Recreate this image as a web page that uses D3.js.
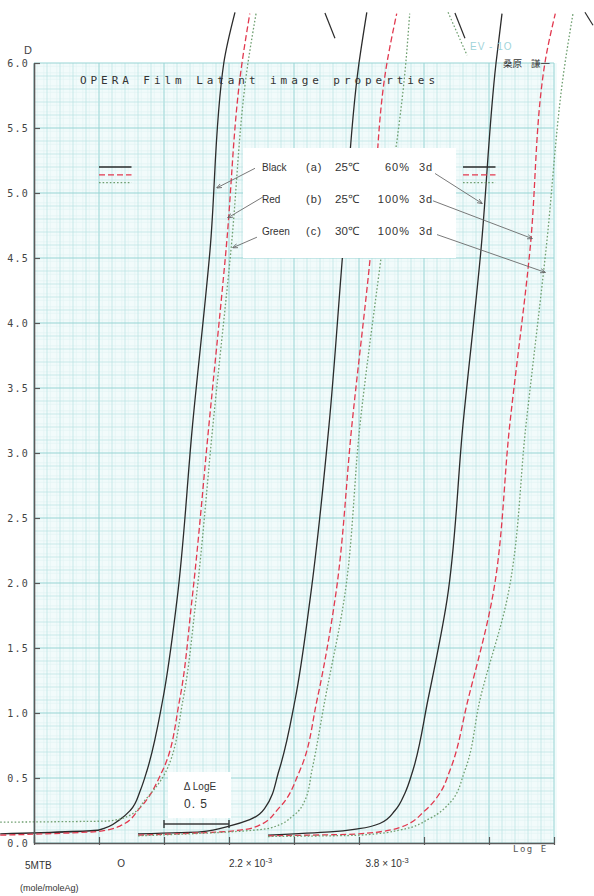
<!DOCTYPE html>
<html>
<head>
<meta charset="utf-8">
<script src="https://cdn.jsdelivr.net/npm/d3@7"></script>
<style>
  html, body { margin: 0; padding: 0; background: #fff; }
  svg { display: block; }
</style>
</head>
<body>
<svg id="chart" width="594" height="896"></svg>
<script>
// [log E, D] pairs, one array per curve
const black0 = [[-0.26,0.07],[0.5,0.10],[0.66,0.18],[0.74,0.25],[0.82,0.41],[0.87,0.56],[0.99,1.10],[1.10,1.87],[1.22,3.22],[1.354,4.56],[1.46,6.0],[1.546,6.39]];
const red0 = [[-0.26,0.06],[0.5,0.09],[0.66,0.13],[0.815,0.27],[0.99,0.56],[1.12,1.10],[1.215,1.87],[1.346,3.22],[1.477,4.56],[1.6,6.0],[1.66,6.38]];
const green0 = [[-0.26,0.16],[0.585,0.17],[0.74,0.215],[0.854,0.33],[1.02,0.56],[1.146,1.10],[1.246,1.87],[1.377,3.22],[1.515,4.56],[1.646,6.0],[1.708,6.38]];

const black1 = [[0.8,0.07],[1.277,0.085],[1.5,0.13],[1.66,0.18],[1.777,0.27],[1.885,0.56],[2.008,1.10],[2.123,1.87],[2.27,3.22],[2.377,4.56],[2.5,6.0],[2.56,6.39]];
const red1 = [[0.8,0.06],[1.5,0.09],[1.72,0.13],[1.885,0.27],[2.046,0.56],[2.177,1.10],[2.315,1.87],[2.446,3.22],[2.592,4.56],[2.715,6.0],[2.79,6.38]];
const green1 = [[0.8,0.055],[1.5,0.085],[1.815,0.115],[2.0,0.215],[2.085,0.33],[2.138,0.56],[2.238,1.10],[2.385,1.87],[2.508,3.22],[2.677,4.56],[2.86,6.0],[2.89,6.38]];

const black2 = [[1.8,0.06],[2.277,0.085],[2.5,0.11],[2.66,0.15],[2.777,0.25],[2.854,0.385],[2.915,0.56],[3.03,1.10],[3.177,1.87],[3.3,3.22],[3.438,4.56],[3.554,6.0],[3.6,6.38]];
const red2 = [[1.8,0.055],[2.5,0.07],[2.815,0.12],[3.008,0.25],[3.123,0.385],[3.2,0.56],[3.338,1.10],[3.523,1.87],[3.66,3.22],[3.815,4.56],[3.93,6.0],[4.01,6.38]];
const green2 = [[1.8,0.05],[2.5,0.06],[2.815,0.10],[3.046,0.19],[3.2,0.31],[3.315,0.56],[3.43,1.10],[3.638,1.87],[3.785,3.22],[3.938,4.56],[4.085,6.0],[4.146,6.38]];

// stray pencil strokes above the sheet
const strayBlack = [[[2.238,6.385],[2.315,6.19]],[[3.238,6.385],[3.315,6.19]],[[4.238,6.39],[4.3,6.29]]];
const strayGreen = [[[3.185,6.39],[3.331,6.06]]];

const yTicks = [0,0.5,1,1.5,2,2.5,3,3.5,4,4.5,5,5.5,6];
const xTicks = [0,0.5,1,1.5,2,2.5,3,3.5,4];

const legendNames = ['Black','Red','Green'];
const legendCond = ['(a)','(b)','(c)'];
const legendTemp = ['25℃','25℃','30℃'];
const legendHum = ['60%','100%','100%'];
const legendDays = ['3d','3d','3d'];

// arrow [from, to] in log E / D
const arrowsLeft = [[[1.70,5.19],[1.408,5.04]],[[1.762,4.97],[1.492,4.81]],[[1.715,4.66],[1.531,4.58]]];
const arrowsRight = [[[3.085,5.15],[3.446,4.92]],[[3.069,4.94],[3.831,4.65]],[[3.10,4.68],[3.931,4.39]]];

const conc = ['O','2.2','3.8'];
const concAt = [0.64,1.5,2.55];

const svg = d3.select('#chart');
const x = d3.scaleLinear().domain([0,4]).range([34,554]);
const y = d3.scaleLinear().domain([0,6]).range([843,63]);

const styles = {
  black: { stroke: '#2b2b2b', dash: null, width: 1.3 },
  red: { stroke: '#e2394f', dash: '6,3', width: 1.3 },
  green: { stroke: '#6f9f70', dash: '1.6,2', width: 1.3 },
};

// graph paper
const paper = svg.append('g');
paper.append('rect')
  .attr('x', x(0)).attr('y', y(6))
  .attr('width', x(4) - x(0) + 3).attr('height', y(0) - y(6))
  .attr('fill', '#f2fbfb');

const fine = d3.range(0, 80).map(i => i * 0.05 + 0.025);
const fineY = d3.range(0, 120).map(i => i * 0.05 + 0.025);
paper.selectAll('.fx').data(fine).join('line')
  .attr('x1', d => x(d)).attr('x2', d => x(d))
  .attr('y1', y(0)).attr('y2', y(6))
  .attr('stroke', '#dcf1f1').attr('stroke-width', 0.5);
paper.selectAll('.fy').data(fineY).join('line')
  .attr('y1', d => y(d)).attr('y2', d => y(d))
  .attr('x1', x(0)).attr('x2', x(4))
  .attr('stroke', '#dcf1f1').attr('stroke-width', 0.5);

const gx = d3.range(0, 41).map(i => i / 10);
const gy = d3.range(0, 61).map(i => i / 10);
const isMajor = d => Math.abs(d * 2 - Math.round(d * 2)) < 1e-6;
paper.selectAll('.gx').data(gx).join('line')
  .attr('x1', d => x(d)).attr('x2', d => x(d))
  .attr('y1', y(0)).attr('y2', y(6))
  .attr('stroke', d => isMajor(d) ? '#97d4d4' : '#b8e3e3')
  .attr('stroke-width', d => isMajor(d) ? 1 : 0.7);
paper.selectAll('.gy').data(gy).join('line')
  .attr('y1', d => y(d)).attr('y2', d => y(d))
  .attr('x1', x(0)).attr('x2', x(4))
  .attr('stroke', d => isMajor(d) ? '#97d4d4' : '#b8e3e3')
  .attr('stroke-width', d => isMajor(d) ? 1 : 0.7);

// curves
const line = d3.line()
  .curve(d3.curveMonotoneY)
  .x(d => x(d[0]))
  .y(d => y(d[1]));

const curves = [
  [black0,'black'],[red0,'red'],[green0,'green'],
  [black1,'black'],[red1,'red'],[green1,'green'],
  [black2,'black'],[red2,'red'],[green2,'green'],
];
const cg = svg.append('g');
curves.forEach(([pts, kind]) => {
  const s = styles[kind];
  cg.append('path')
    .datum(pts)
    .attr('fill', 'none')
    .attr('stroke', s.stroke)
    .attr('stroke-width', s.width)
    .attr('stroke-dasharray', s.dash)
    .attr('d', line);
});
const seg = d3.line().x(d => x(d[0])).y(d => y(d[1]));
strayBlack.forEach(s => cg.append('path').datum(s)
  .attr('fill', 'none').attr('stroke', styles.black.stroke).attr('stroke-width', 1.2)
  .attr('d', seg));
strayGreen.forEach(s => cg.append('path').datum(s)
  .attr('fill', 'none').attr('stroke', styles.green.stroke).attr('stroke-width', 1.2)
  .attr('stroke-dasharray', styles.green.dash)
  .attr('d', seg));

// white label patches
svg.append('rect')
  .attr('x', 243).attr('y', 148).attr('width', 213).attr('height', 110)
  .attr('fill', '#fff');
svg.append('rect')
  .attr('x', 168).attr('y', 772).attr('width', 63).attr('height', 46)
  .attr('fill', '#fff');

// axes
const yAxis = svg.append('g')
  .attr('transform', `translate(${x(0)},0)`)
  .call(d3.axisLeft(y).tickValues(yTicks).tickFormat(d3.format('.1f'))
    .tickSizeInner(-6).tickSizeOuter(0).tickPadding(5));
yAxis.select('.domain').attr('stroke', '#5a5a5a').attr('stroke-width', 1.6);
yAxis.selectAll('.tick line').attr('stroke', '#5a5a5a').attr('stroke-width', 1.2);
yAxis.selectAll('.tick text')
  .attr('font-family', 'DejaVu Sans Mono, monospace')
  .attr('font-size', 10).attr('fill', '#444')
  .attr('letter-spacing', 1.2);

const xAxis = svg.append('g')
  .attr('transform', `translate(0,${y(0)})`)
  .call(d3.axisBottom(x).tickValues(xTicks).tickFormat('')
    .tickSizeInner(-6).tickSizeOuter(0));
xAxis.select('.domain').attr('stroke', '#5a5a5a').attr('stroke-width', 1.6);
xAxis.selectAll('.tick line').attr('stroke', '#5a5a5a').attr('stroke-width', 1.2)
  .attr('y2', -6).attr('y1', 2);

svg.append('text')
  .attr('x', 28).attr('y', 54)
  .attr('text-anchor', 'middle')
  .attr('font-family', 'Liberation Sans, Arial, sans-serif')
  .attr('font-size', 11).attr('fill', '#444')
  .text('D');

svg.append('text')
  .attr('x', 513).attr('y', 852)
  .attr('font-family', 'DejaVu Sans Mono, monospace')
  .attr('font-size', 9).attr('fill', '#555')
  .attr('letter-spacing', 1.5)
  .text('Log E');

// title
svg.append('text')
  .attr('x', 80).attr('y', 84)
  .attr('font-family', 'DejaVu Sans Mono, monospace')
  .attr('font-size', 11).attr('fill', '#333')
  .attr('textLength', 355).attr('lengthAdjust', 'spacing')
  .text('OPERA Film  Latant image properties');

// corner marks
svg.append('text')
  .attr('x', 470).attr('y', 50)
  .attr('font-family', 'Liberation Sans, Arial, sans-serif')
  .attr('font-size', 10).attr('fill', '#9fd4da')
  .attr('letter-spacing', 1)
  .text('EV - 1O');
const nm = svg.append('g')
  .attr('font-family', 'Noto Sans CJK JP, sans-serif')
  .attr('font-size', 9.5).attr('fill', '#333');
nm.append('text').attr('x', 503).attr('y', 67).text('桑原');
nm.append('text').attr('x', 531).attr('y', 67).text('謙一');

// legend samples
const sampleRows = [5.2, 5.14, 5.08];
const sampleCols = [[0.5,0.75],[3.3,3.55]];
['black','red','green'].forEach((k, i) => {
  sampleCols.forEach(c => {
    const s = styles[k];
    svg.append('line')
      .attr('x1', x(c[0])).attr('x2', x(c[1]))
      .attr('y1', y(sampleRows[i])).attr('y2', y(sampleRows[i]))
      .attr('stroke', s.stroke).attr('stroke-width', 1.3)
      .attr('stroke-dasharray', s.dash);
  });
});

// legend text
const rowY = [171, 203, 235];
const lg = svg.append('g')
  .attr('font-family', 'Liberation Sans, Arial, sans-serif')
  .attr('fill', '#333');
legendNames.forEach((n, i) => {
  lg.append('text').attr('x', 262).attr('y', rowY[i]).attr('font-size', 10).text(n);
  lg.append('text').attr('x', 306).attr('y', rowY[i]).attr('font-size', 11)
    .attr('letter-spacing', 1).text(legendCond[i]);
  lg.append('text').attr('x', 335).attr('y', rowY[i]).attr('font-size', 11.5)
    .text(legendTemp[i]);
  lg.append('text').attr('x', 410).attr('y', rowY[i]).attr('font-size', 11)
    .attr('text-anchor', 'end').attr('letter-spacing', 1).text(legendHum[i]);
  lg.append('text').attr('x', 419).attr('y', rowY[i]).attr('font-size', 11)
    .attr('letter-spacing', 1).text(legendDays[i]);
});

// arrows
svg.append('defs').append('marker')
  .attr('id', 'ah').attr('viewBox', '0 0 10 10')
  .attr('refX', 9).attr('refY', 5)
  .attr('markerWidth', 6).attr('markerHeight', 6)
  .attr('orient', 'auto')
  .append('path').attr('d', 'M0,1L10,5L0,9').attr('fill', 'none')
  .attr('stroke', '#666').attr('stroke-width', 1.5);
arrowsLeft.concat(arrowsRight).forEach(a => {
  svg.append('line')
    .attr('x1', x(a[0][0])).attr('y1', y(a[0][1]))
    .attr('x2', x(a[1][0])).attr('y2', y(a[1][1]))
    .attr('stroke', '#6a6a6a').attr('stroke-width', 0.9)
    .attr('marker-end', 'url(#ah)');
});

// delta log E bracket
const by = y(0.146);
const br = svg.append('g').attr('stroke', '#3a3a3a').attr('stroke-width', 1.4);
br.append('line').attr('x1', x(1)).attr('x2', x(1.5)).attr('y1', by).attr('y2', by);
br.append('line').attr('x1', x(1)).attr('x2', x(1)).attr('y1', by - 4).attr('y2', by + 4);
br.append('line').attr('x1', x(1.5)).attr('x2', x(1.5)).attr('y1', by - 4).attr('y2', by + 4);
svg.append('text')
  .attr('x', 200).attr('y', 790).attr('text-anchor', 'middle')
  .attr('font-family', 'Liberation Sans, Arial, sans-serif')
  .attr('font-size', 10).attr('fill', '#333')
  .text('Δ LogE');
svg.append('text')
  .attr('x', 196).attr('y', 808).attr('text-anchor', 'middle')
  .attr('font-family', 'Liberation Sans, Arial, sans-serif')
  .attr('font-size', 12).attr('fill', '#333')
  .attr('letter-spacing', 1)
  .text('0. 5');

// concentration labels
const bf = 'Liberation Sans, Arial, sans-serif';
svg.append('text').attr('x', 25).attr('y', 869)
  .attr('font-family', bf).attr('font-size', 10).attr('fill', '#333').text('5MTB');
svg.append('text').attr('x', 20).attr('y', 891)
  .attr('font-family', bf).attr('font-size', 9).attr('fill', '#333').text('(mole/moleAg)');
conc.forEach((c, i) => {
  const t = svg.append('text').attr('x', x(concAt[i])).attr('y', 867)
    .attr('font-family', bf).attr('font-size', 10).attr('fill', '#333');
  if (i === 0) { t.text(c); return; }
  t.append('tspan').text(c + ' × 10');
  t.append('tspan').attr('dy', -4).attr('font-size', 7.5).text('-3');
});
</script>
</body>
</html>
